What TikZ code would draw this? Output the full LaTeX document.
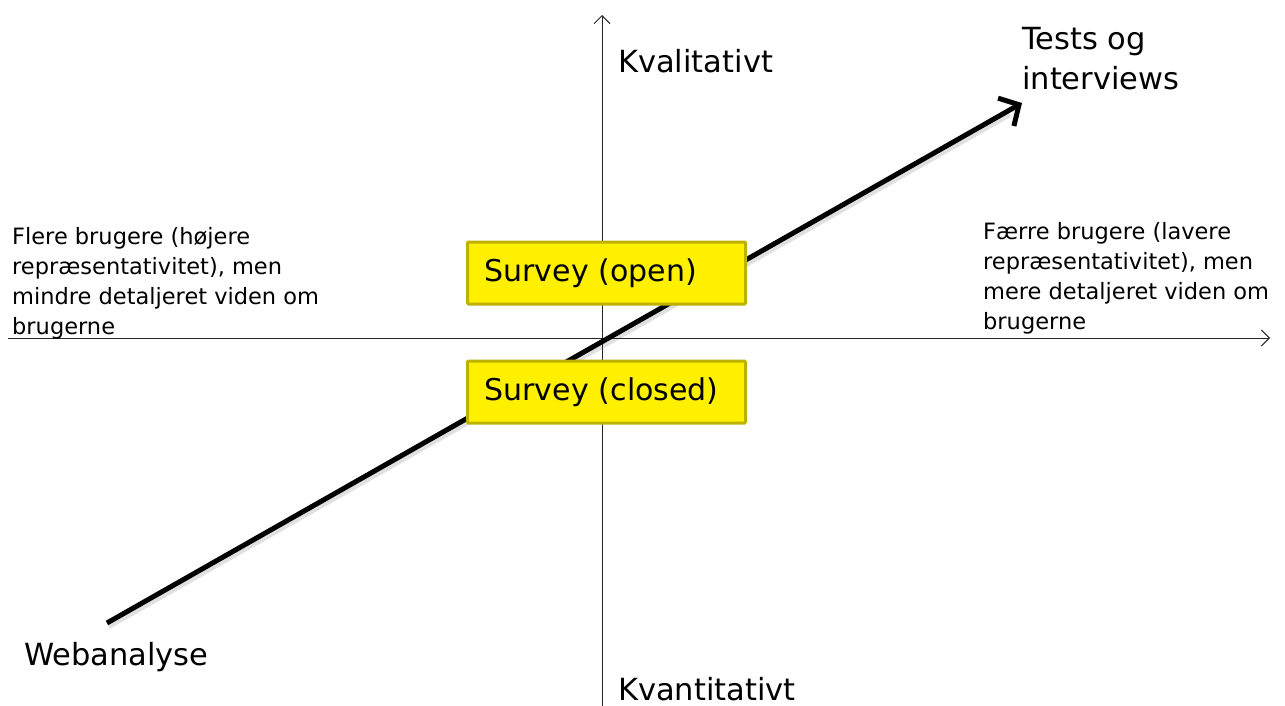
\documentclass[tikz,border=0pt]{standalone}
\usepackage{fontspec}
\setmainfont{DejaVu Sans}
\usetikzlibrary{arrows.meta}
\definecolor{boxfill}{RGB}{255,240,0}
\definecolor{boxline}{RGB}{190,178,0}
\begin{document}
\begin{tikzpicture}[x=1pt,y=-1pt,
  axis/.style={line width=1pt, draw=black!85, -{Straight Barb[length=8pt,width=16pt,line width=1pt]}},
  big/.style={font=\fontsize{30.5}{40}\selectfont, inner sep=0pt, anchor=base west, align=left},
  small/.style={font=\fontsize{22.5}{30}\selectfont, inner sep=0pt, anchor=base west, align=left},
  surveybox/.style={draw=boxline, fill=boxfill, line width=3pt, rounded corners=1pt,
    minimum width=278pt, minimum height=62pt, text width=244pt, inner xsep=17pt, inner ysep=0pt,
    align=left, anchor=west, font=\fontsize{30}{36}\selectfont},
  main/.style={line width=5pt, draw=black, -{Straight Barb[length=15pt,width=32pt,line width=5pt]}},
  shadowline/.style={line width=4pt, draw=black!12}
]
\useasboundingbox (0,0) rectangle (1285,706);
% shadow of main arrow (beneath everything)
\coordinate (sstart) at (109,627);
\coordinate (send) at (1010,115);
\draw[shadowline] (sstart) -- (send);
% axes
\coordinate (vbot) at (602,706);
\coordinate (vtop) at (602,15);
\coordinate (hleft) at (8,338);
\coordinate (hright) at (1270,338);
\draw[axis] (vbot) -- (vtop);
\draw[axis] (hleft) -- (hright);
% main arrow
\coordinate (mstart) at (107,623);
\coordinate (mend) at (1022,103);
\draw[main] (mstart) -- (mend);
% survey boxes
\node[surveybox] (open) at (466,273) {Survey (open)};
\node[surveybox] (closed) at (466,392) {Survey (closed)};
% labels
\node[big] (kval) at (618,73) {Kvalitativt};
\node[big] (kvant) at (618,700) {Kvantitativt};
\node[big] (web) at (24,665) {Webanalyse};
\node[big] (tests) at (1022,90) {Tests og\\interviews};
\node[small] (left) at (12,334) {Flere brugere (højere\\repræsentativitet), men\\mindre detaljeret viden om\\brugerne};
\node[small] (right) at (983,329) {Færre brugere (lavere\\repræsentativitet), men\\mere detaljeret viden om\\brugerne};
\end{tikzpicture}
\end{document}
